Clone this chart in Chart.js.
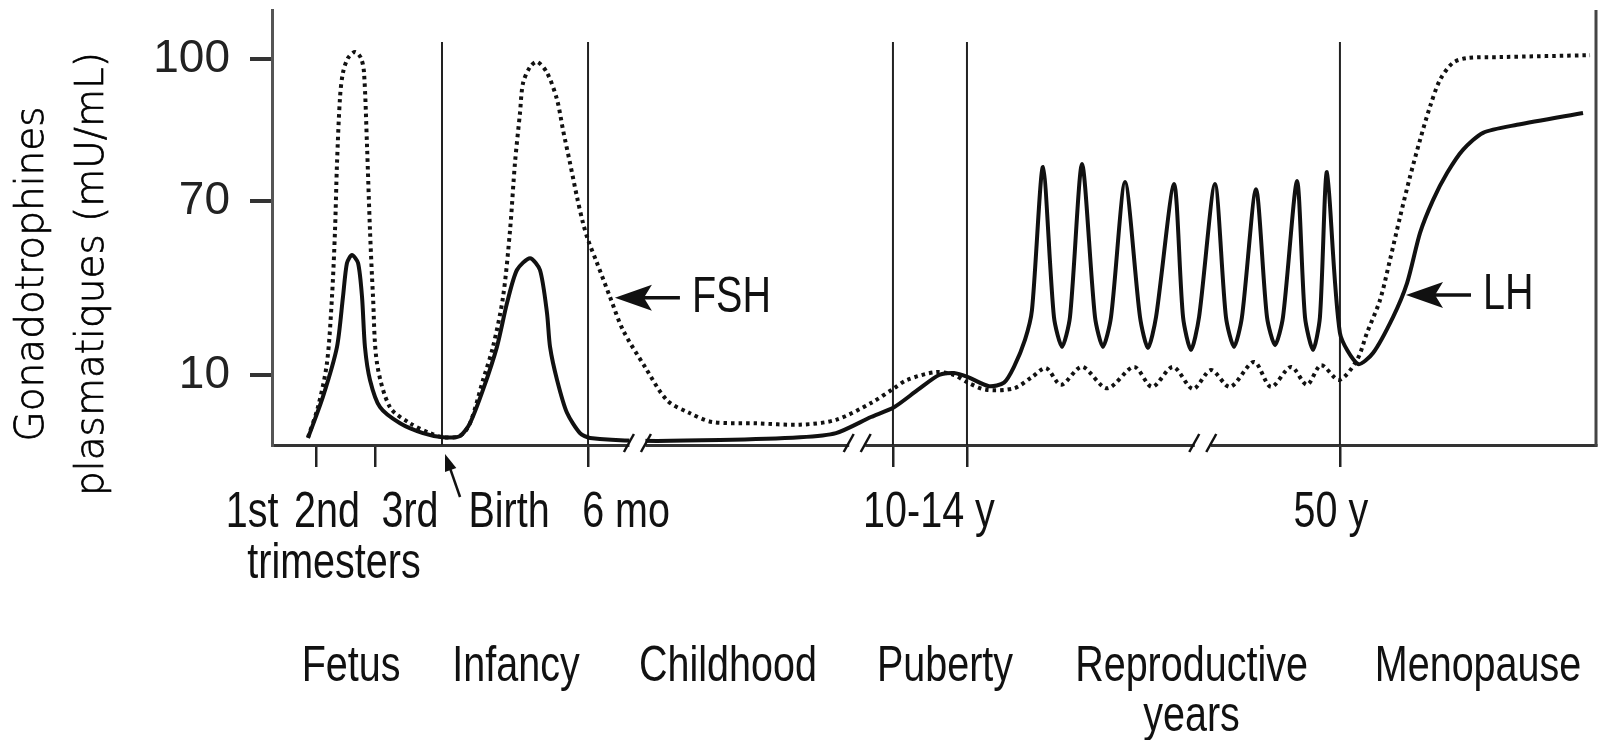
<!DOCTYPE html>
<html>
<head>
<meta charset="utf-8">
<title>Gonadotrophines</title>
<script src="https://cdn.jsdelivr.net/npm/chart.js@4.4.1/dist/chart.umd.min.js"></script>
<style>
  html, body { margin: 0; padding: 0; background: #fff; }
  #wrap { width: 1604px; height: 740px; }
</style>
</head>
<body>
<div id="wrap"><canvas id="chart_div" width="1604" height="740"></canvas></div>
<script>
// x: schematic life-span axis (0..100, with breaks), y: mU/mL on a stretched axis
const lhPoints = [
  [2.72, 1.0], [3.85, 6.9], [4.91, 19.7], [5.36, 36.9], [5.66, 48.6], [6.04, 51.4], [6.50, 48.6],
  [6.80, 36.9], [7.02, 19.7], [7.40, 9.3], [8.16, 5.4], [9.67, 3.1], [11.40, 1.7], [12.92, 1.1],
  [14.20, 1.3], [14.95, 3.1], [15.94, 7.9], [16.99, 19.7], [17.75, 34.8], [18.50, 46.2], [19.49, 50.3],
  [20.24, 46.2], [20.77, 31.4], [21.00, 19.7], [21.53, 9.3], [22.28, 4.6], [23.26, 1.7], [24.02, 1.0],
  [27.79, 0.6], [33.84, 0.7], [39.88, 1.1], [42.60, 1.7], [45.24, 4.0], [46.98, 5.4], [48.79, 7.9],
  [50.38, 10.0], [51.51, 10.7], [52.57, 9.7], [54.15, 8.4], [55.29, 8.9], [56.04, 12.8], [56.87, 22.1],
  [57.40, 32.4], [58.23, 77.2], [59.06, 30], [59.67, 19.7], [60.27, 30], [61.18, 77.8], [62.16, 30],
  [62.76, 19.7], [63.37, 30], [64.43, 74.0], [65.56, 30], [66.16, 19.3], [66.77, 30], [68.13, 73.6],
  [68.81, 30], [69.41, 18.6], [70.02, 30], [71.22, 73.6], [72.05, 30], [72.66, 19.7], [73.26, 30],
  [74.32, 72.5], [75.15, 30], [75.76, 20.3], [76.36, 30], [77.42, 74.2], [78.02, 30], [78.63, 18.6],
  [79.15, 30], [79.68, 76.1], [80.66, 24.5], [82.02, 13.8], [83.16, 17.6], [84.67, 30.0], [85.73, 41.7],
  [86.71, 59.0], [87.69, 70.2], [88.75, 75.9], [89.95, 80.8], [91.47, 84.4], [94.03, 86.1], [99.02, 88.6]
];
const fshPoints = [
  [2.72, 1.1], [3.47, 5.4], [4.15, 14.1], [4.53, 36.9], [4.76, 60.0], [4.91, 78.0], [5.14, 92.0],
  [5.36, 97.1], [5.74, 100.2], [6.27, 101.5], [6.72, 100.2], [6.95, 97.1], [7.18, 81.4], [7.40, 60.0],
  [7.63, 36.9], [7.93, 14.1], [8.91, 5.4], [10.42, 3.1], [11.93, 1.7], [12.92, 1.1],
  [14.20, 1.3], [14.95, 3.1], [15.94, 9.3], [16.69, 19.7], [17.45, 36.9], [17.98, 60.0], [18.35, 78.0],
  [18.73, 88.6], [18.96, 94.9], [19.49, 98.3], [20.02, 99.4], [20.77, 97.1], [21.53, 91.4], [21.98, 85.0],
  [22.51, 78.0], [23.04, 70.8], [23.49, 62.4], [23.87, 56.6], [24.55, 48.6], [25.53, 36.9], [26.51, 25.5],
  [28.17, 12.8], [29.83, 6.4], [31.50, 4.6], [33.23, 3.3], [36.56, 3.1], [39.88, 2.9], [42.60, 3.6],
  [45.24, 6.0], [46.98, 8.1], [47.96, 9.3], [50.15, 11.0], [51.51, 10.0], [52.57, 8.9], [53.93, 7.9],
  [56.04, 8.1], [57.40, 9.7], [58.46, 12.4], [59.59, 8.6], [61.18, 12.8], [63.07, 8.1], [65.11, 12.8],
  [66.47, 8.3], [68.05, 12.8], [69.56, 8.0], [70.92, 11.7], [72.36, 8.3], [74.17, 14.5], [75.45, 8.3],
  [76.96, 12.8], [78.17, 8.6], [79.23, 13.4], [80.59, 9.3], [81.95, 15.2], [82.70, 24.5], [83.69, 35.9],
  [84.44, 49.7], [85.20, 64.5], [85.95, 75.1], [86.71, 82.9], [87.46, 89.9], [88.22, 95.6], [89.20, 99.2],
  [90.26, 100.2], [92.75, 100.4], [99.55, 100.8]
];

const dividerX = [12.84, 23.87, 46.90, 52.49, 80.66];
const dividerTop = 103.6;
const tickX = [3.32, 7.78, 23.87, 46.90, 52.49, 80.66];
const yTicks = [10, 70, 100];
const ageLabels = ['1st', '2nd', '3rd', 'Birth', '6 mo', '10-14 y', '50 y'];
const ageLabelX = [-1.51, 4.15, 10.42, 17.90, 26.74, 49.62, 79.98];
const subLabel = 'trimesters';
const subLabelX = 4.68;
const phaseLabels = ['Fetus', 'Infancy', 'Childhood', 'Puberty', ['Reproductive', 'years'], 'Menopause'];
const phaseX = [5.97, 18.43, 34.44, 50.83, 69.45, 91.09];
const breakX = [27.6, 44.2, 70.3];
const birthX = 13.07;
const noteText = ['FSH', 'LH'];
const noteX = [25.9, 85.65];
const noteY = [36.6, 37.6];
const titleLines = ['Gonadotrophines', 'plasmatiques (mU/mL)'];

// the printed y axis is not linear: 10, 70 and 100 sit at hand-placed heights
const yStops = [0, 10, 70, 100, 110.36];
const yFrac = [0, 0.1609, 0.5609, 0.8874, 1];

function toFrac(v) {
  let i = 0;
  while (i < yStops.length - 2 && v > yStops[i + 1]) i++;
  return yFrac[i] + (v - yStops[i]) / (yStops[i + 1] - yStops[i]) * (yFrac[i + 1] - yFrac[i]);
}
function fromFrac(f) {
  let i = 0;
  while (i < yFrac.length - 2 && f > yFrac[i + 1]) i++;
  return yStops[i] + (f - yFrac[i]) / (yFrac[i + 1] - yFrac[i]) * (yStops[i + 1] - yStops[i]);
}

class StretchScale extends Chart.LinearScale {
  getPixelForValue(value) {
    if (value === null || value === undefined || isNaN(value)) return NaN;
    return this.getPixelForDecimal(toFrac(value));
  }
  getValueForPixel(pixel) {
    return fromFrac(this.getDecimalForPixel(pixel));
  }
}
StretchScale.id = 'stretch';
StretchScale.defaults = Chart.LinearScale.defaults;
Chart.register(StretchScale);

const toXY = p => ({ x: p[0], y: p[1] });
const dividerData = [];
dividerX.forEach(v => {
  dividerData.push({ x: v, y: 0 }, { x: v, y: dividerTop }, { x: v, y: null });
});

const TEXT_FONT = '50px "Liberation Sans", Arial, sans-serif';
function squeezeText(ctx, text, px, py, align) {
  ctx.save();
  ctx.translate(px, py);
  ctx.scale(0.79, 1);
  ctx.textAlign = align;
  ctx.fillText(text, 0, 0);
  ctx.restore();
}

const sketchPlugin = {
  id: 'sketch',
  afterDatasetsDraw(chart) {
    const { ctx, chartArea: a, scales: { x } } = chart;
    ctx.save();
    // right frame
    ctx.strokeStyle = '#444';
    ctx.lineWidth = 3;
    ctx.beginPath();
    ctx.moveTo(a.right, a.top);
    ctx.lineTo(a.right, a.bottom + 1.5);
    ctx.stroke();
    // axis breaks  //
    breakX.forEach(v => {
      const px = x.getPixelForValue(v), py = a.bottom - 2;
      ctx.fillStyle = '#fff';
      ctx.fillRect(px - 8, py - 6, 16, 12);
      ctx.strokeStyle = '#111';
      ctx.lineWidth = 2.5;
      [-8.5, 8.5].forEach(d => {
        ctx.beginPath();
        ctx.moveTo(px + d - 5, py + 9);
        ctx.lineTo(px + d + 5, py - 9);
        ctx.stroke();
      });
    });
    ctx.restore();
  },
  afterDraw(chart) {
    const { ctx, chartArea: a, scales: { x, y } } = chart;
    ctx.save();
    ctx.fillStyle = '#111';
    ctx.strokeStyle = '#111';
    ctx.font = TEXT_FONT;
    ctx.textBaseline = 'alphabetic';

    ageLabels.forEach((t, i) => squeezeText(ctx, t, x.getPixelForValue(ageLabelX[i]), a.bottom + 82, 'center'));
    squeezeText(ctx, subLabel, x.getPixelForValue(subLabelX), a.bottom + 133, 'center');
    phaseLabels.forEach((t, i) => {
      const lines = Array.isArray(t) ? t : [t];
      lines.forEach((s, k) => squeezeText(ctx, s, x.getPixelForValue(phaseX[i]), a.bottom + 236 + k * 50, 'center'));
    });

    // birth arrow
    const bx = x.getPixelForValue(birthX), by = a.bottom + 9;
    const tx = bx + 15, ty = by + 43;
    const len = Math.hypot(tx - bx, ty - by);
    const ux = (tx - bx) / len, uy = (ty - by) / len;
    ctx.lineWidth = 2.5;
    ctx.beginPath();
    ctx.moveTo(bx + ux * 10, by + uy * 10);
    ctx.lineTo(tx, ty);
    ctx.stroke();
    ctx.beginPath();
    ctx.moveTo(bx, by);
    ctx.lineTo(bx + ux * 17 + uy * 6, by + uy * 17 - ux * 6);
    ctx.lineTo(bx + ux * 17 - uy * 6, by + uy * 17 + ux * 6);
    ctx.closePath();
    ctx.fill();

    // FSH / LH call-outs
    noteText.forEach((t, i) => {
      const px = x.getPixelForValue(noteX[i]), py = y.getPixelForValue(noteY[i]);
      ctx.beginPath();
      ctx.moveTo(px, py);
      ctx.lineTo(px + 37, py - 13);
      ctx.lineTo(px + 29, py);
      ctx.lineTo(px + 37, py + 13);
      ctx.closePath();
      ctx.fill();
      ctx.lineWidth = 3.5;
      ctx.beginPath();
      ctx.moveTo(px + 28, py);
      ctx.lineTo(px + 65, py);
      ctx.stroke();
      ctx.textBaseline = 'middle';
      squeezeText(ctx, t, px + 77, py, 'left');
    });

    // y title, two rotated lines
    ctx.font = '200 39px "DejaVu Sans", sans-serif';
    ctx.fillStyle = '#000';
    ctx.strokeStyle = '#000';
    ctx.lineWidth = 0.7;
    ctx.textAlign = 'center';
    ctx.textBaseline = 'middle';
    ctx.translate(33, a.top + 264);
    ctx.rotate(-Math.PI / 2);
    titleLines.forEach((t, k) => {
      ctx.fillText(t, 0, k * 60);
      ctx.strokeText(t, 0, k * 60);
    });
    ctx.restore();
  }
};

const ctx = document.getElementById('chart_div');
new Chart(ctx, {
  type: 'line',
  data: {
    datasets: [
      {
        label: 'LH',
        data: lhPoints.map(toXY),
        borderColor: '#111',
        borderWidth: 4,
        tension: 0.25,
        pointRadius: 0
      },
      {
        label: 'FSH',
        data: fshPoints.map(toXY),
        borderColor: '#111',
        borderWidth: 4,
        borderDash: [3.5, 4],
        tension: 0.3,
        pointRadius: 0
      },
      {
        label: 'periods',
        data: dividerData,
        borderColor: '#222',
        borderWidth: 2,
        tension: 0,
        spanGaps: false,
        pointRadius: 0
      }
    ]
  },
  options: {
    responsive: false,
    animation: false,
    events: [],
    layout: { padding: { top: 10, right: 8, left: 0, bottom: 0 } },
    plugins: { legend: { display: false }, tooltip: { enabled: false } },
    scales: {
      x: {
        type: 'linear',
        min: 0,
        max: 100,
        afterBuildTicks: axis => { axis.ticks = tickX.map(v => ({ value: v })); },
        afterFit: axis => {
          axis.height = 295;
          axis.paddingLeft = 0;
          axis.paddingRight = 0;
        },
        ticks: { display: false },
        grid: { drawOnChartArea: false, drawTicks: true, tickLength: 22, color: '#222', lineWidth: 2.5 },
        border: { color: '#333', width: 3 }
      },
      y: {
        type: 'stretch',
        min: 0,
        max: 110.36,
        afterBuildTicks: axis => { axis.ticks = yTicks.map(v => ({ value: v })); },
        afterFit: axis => {
          axis.width = 272;
          axis.paddingTop = 0;
          axis.paddingBottom = 0;
        },
        ticks: {
          padding: 20,
          color: '#222',
          font: { family: '"Liberation Sans", Arial, sans-serif', size: 46 }
        },
        grid: { drawOnChartArea: false, drawTicks: true, tickLength: 22, color: '#333', lineWidth: 4 },
        border: { color: '#555', width: 3 }
      }
    }
  },
  plugins: [sketchPlugin]
});
</script>
</body>
</html>
